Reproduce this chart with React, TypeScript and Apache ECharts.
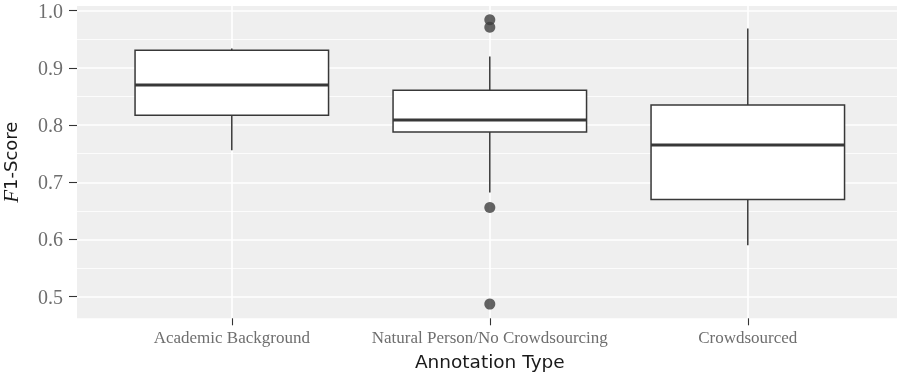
import React, { useEffect, useRef } from "react";
import * as echarts from "echarts";

const categories = ["Academic Background", "Natural Person/No Crowdsourcing", "Crowdsourced"];
const whiskerLow = [0.756, 0.682, 0.59];
const q1 = [0.817, 0.788, 0.67];
const median = [0.87, 0.809, 0.765];
const q3 = [0.931, 0.861, 0.835];
const whiskerHigh = [0.934, 0.92, 0.969];
const outlierCategory = [1, 1, 1, 1];
const outlierValue = [0.984, 0.971, 0.656, 0.487];
const yTicks = [0.5, 0.6, 0.7, 0.8, 0.9, 1.0];
const yMinorTicks = [0.55, 0.65, 0.75, 0.85, 0.95];
const xTicks = [1, 2, 3];

const Y_MIN = 0.4622;
const Y_MAX = 1.0082;
const BOX_HALF = 0.375;

export default function App() {
  const ref = useRef<HTMLDivElement>(null);
  useEffect(() => {
    if (!ref.current) return;
    const chart = echarts.init(ref.current, null, { renderer: "svg" });
    const boxData = categories.map((_, i) => [i + 1, whiskerLow[i], q1[i], median[i], q3[i], whiskerHigh[i]]);
    const outData = outlierValue.map((v, i) => [outlierCategory[i] + 1, v]);
    const stroke = "#383838";
    chart.setOption({
      animation: false,
      grid: {
        left: 77,
        top: 6,
        width: 825.6,
        height: 312.3,
        show: true,
        backgroundColor: "#EFEFEF",
        borderWidth: 0,
        containLabel: false,
        outerBoundsMode: "none",
      },
      xAxis: {
        type: "value",
        min: 0.4,
        max: 3.6,
        axisLine: { show: false },
        axisTick: { show: true, length: 7, customValues: xTicks, lineStyle: { color: "#333", width: 1.1 } },
        axisLabel: {
          customValues: xTicks,
          formatter: (v: number) => categories[Math.round(v) - 1] ?? "",
          fontFamily: "Liberation Serif",
          fontSize: 17,
          color: "#6e6e6e",
          margin: 11,
        },
        splitLine: { show: true, lineStyle: { color: "#ffffff", width: 1.6 } },
        name: "Annotation Type",
        nameLocation: "middle",
        nameGap: 34,
        nameTextStyle: { fontFamily: "DejaVu Sans", fontSize: 18.5, color: "#1a1a1a" },
      },
      yAxis: [
        {
          type: "value",
          min: Y_MIN,
          max: Y_MAX,
          axisLine: { show: false },
          axisTick: { show: true, length: 8, customValues: yTicks, lineStyle: { color: "#333", width: 1.1 } },
          axisLabel: {
            customValues: yTicks,
            formatter: (v: number) => v.toFixed(1),
            fontFamily: "Liberation Serif",
            fontSize: 20,
            color: "#6e6e6e",
            margin: 14,
          },
          splitLine: { show: true, lineStyle: { color: "#ffffff", width: 1.6 } },
          name: "{i|F}{s|1-Score}",
          nameLocation: "middle",
          nameGap: 56,
          nameRotate: 90,
          nameTextStyle: {
            rich: {
              i: { fontFamily: "Liberation Serif", fontStyle: "italic", fontSize: 21, color: "#1a1a1a" },
              s: { fontFamily: "DejaVu Sans", fontSize: 18, color: "#1a1a1a" },
            },
          },
        },
        {
          type: "value",
          min: Y_MIN,
          max: Y_MAX,
          position: "left",
          axisLine: { show: false },
          axisTick: { show: false, customValues: yMinorTicks },
          axisLabel: { show: false, customValues: yMinorTicks },
          splitLine: { show: true, lineStyle: { color: "#ffffff", width: 0.8 } },
        },
      ],
      series: [
        {
          type: "custom",
          data: boxData,
          encode: { x: 0, y: [1, 2, 3, 4, 5] },
          z: 3,
          renderItem: (params: any, api: any) => {
            const x = api.value(0);
            const lo = api.coord([x, api.value(1)]);
            const a = api.coord([x, api.value(2)]);
            const m = api.value(3);
            const b = api.coord([x, api.value(4)]);
            const hi = api.coord([x, api.value(5)]);
            const left = api.coord([x - BOX_HALF, m]);
            const right = api.coord([x + BOX_HALF, m]);
            return {
              type: "group",
              children: [
                { type: "line", shape: { x1: lo[0], y1: lo[1], x2: a[0], y2: a[1] }, style: { stroke, lineWidth: 1.5 } },
                { type: "line", shape: { x1: b[0], y1: b[1], x2: hi[0], y2: hi[1] }, style: { stroke, lineWidth: 1.5 } },
                {
                  type: "rect",
                  shape: { x: left[0], y: b[1], width: right[0] - left[0], height: a[1] - b[1] },
                  style: { fill: "#ffffff", stroke, lineWidth: 1.5 },
                },
                { type: "line", shape: { x1: left[0], y1: left[1], x2: right[0], y2: right[1] }, style: { stroke, lineWidth: 3 } },
              ],
            };
          },
        },
        {
          type: "scatter",
          data: outData,
          symbol: "circle",
          symbolSize: 11,
          itemStyle: { color: "#3d3d3d" },
          z: 4,
        },
      ],
    });
    return () => chart.dispose();
  }, []);
  return <div ref={ref} style={{ position: "fixed", left: 0, top: 0, width: 897, height: 377 }} />;
}
